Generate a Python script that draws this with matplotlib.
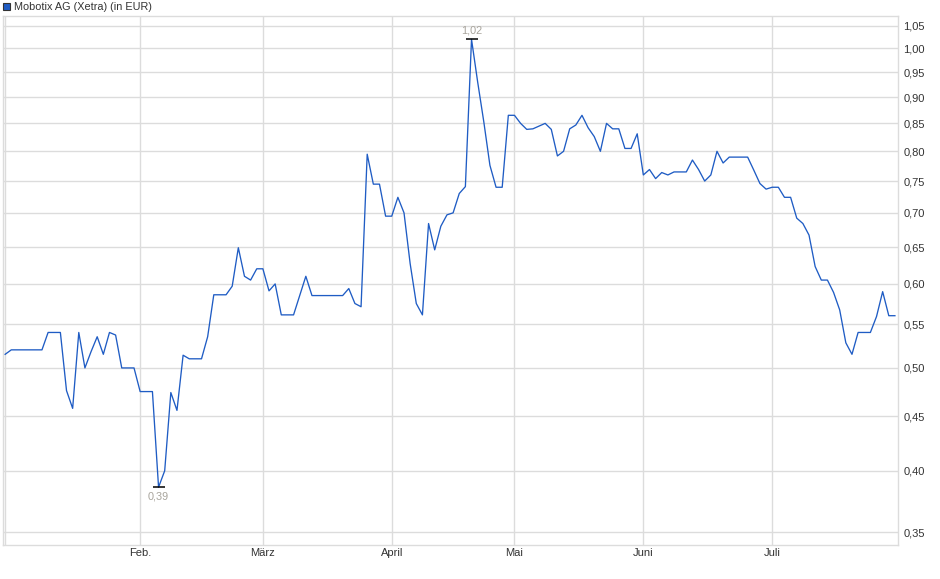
import numpy as np
import matplotlib.pyplot as plt
from matplotlib.ticker import FuncFormatter, NullLocator
from matplotlib.patches import Rectangle

plt.rcParams['font.family'] = ['Liberation Sans', 'DejaVu Sans']

# daily closing prices (EUR), one value per trading day
prices = [
    0.515, 0.52, 0.52, 0.52, 0.52, 0.52, 0.52, 0.54, 0.54, 0.54,
    0.476, 0.458, 0.54, 0.50, 0.518, 0.535, 0.515, 0.54, 0.537, 0.50,
    0.50, 0.50, 0.475, 0.475, 0.475, 0.386, 0.40, 0.474, 0.456, 0.514,
    0.51, 0.51, 0.51, 0.535, 0.586, 0.586, 0.586, 0.597, 0.649, 0.61,
    0.605, 0.62, 0.62, 0.591, 0.60, 0.561, 0.561, 0.561, 0.585, 0.61,
    0.585, 0.585, 0.585, 0.585, 0.585, 0.585, 0.594, 0.575, 0.571, 0.795,
    0.745, 0.745, 0.695, 0.695, 0.724, 0.70, 0.627, 0.575, 0.561, 0.684,
    0.646, 0.68, 0.697, 0.70, 0.73, 0.741, 1.02, 0.93, 0.853, 0.776,
    0.74, 0.74, 0.865, 0.865, 0.85, 0.839, 0.84, 0.845, 0.85, 0.839,
    0.792, 0.80, 0.84, 0.847, 0.865, 0.842, 0.826, 0.80, 0.85, 0.84,
    0.84, 0.805, 0.805, 0.831, 0.76, 0.769, 0.754, 0.764, 0.76, 0.765,
    0.765, 0.765, 0.785, 0.769, 0.75, 0.76, 0.80, 0.78, 0.79, 0.79,
    0.79, 0.79, 0.768, 0.746, 0.737, 0.74, 0.74, 0.724, 0.724, 0.692,
    0.684, 0.667, 0.623, 0.605, 0.605, 0.589, 0.567, 0.528, 0.515, 0.54,
    0.54, 0.54, 0.559, 0.59, 0.56, 0.56,
]
days = np.arange(len(prices))

month_labels = ['Feb.', 'März', 'April', 'Mai', 'Juni', 'Juli']
month_starts = [22, 42, 63, 83, 104, 125]
y_ticks = [0.35, 0.40, 0.45, 0.50, 0.55, 0.60, 0.65, 0.70, 0.75,
           0.80, 0.85, 0.90, 0.95, 1.00, 1.05]

W, H = 940, 579
fig = plt.figure(figsize=(W / 100, H / 100), dpi=100)
ax = fig.add_axes([3 / W, 1 - 545 / H, 895 / W, 529 / H])

grid_c = '#dcdcdc'
line_c = '#1f5cc4'

ax.plot(days, prices, color=line_c, lw=0.95, zorder=3)

ax.set_yscale('log')
ax.set_ylim(0.3405, 1.073)
ax.set_xlim(-0.35, 145.5)

ax.yaxis.set_minor_locator(NullLocator())
ax.set_yticks(y_ticks)
ax.yaxis.set_major_formatter(FuncFormatter(lambda v, p: f'{v:.2f}'.replace('.', ',')))
ax.yaxis.tick_right()
ax.set_xticks(month_starts)
ax.set_xticklabels(month_labels)
ax.tick_params(axis='both', length=0, labelsize=8, colors='#333333')
ax.tick_params(axis='y', pad=4)
ax.tick_params(axis='x', pad=2.5)

for y in y_ticks:
    ax.axhline(y, color=grid_c, lw=1, zorder=1)
for x in [0] + month_starts:
    ax.axvline(x, color=grid_c, lw=1, zorder=1)

for s in ax.spines.values():
    s.set_color(grid_c)
    s.set_linewidth(1)

# high / low markers
i_hi = int(np.argmax(prices))
i_lo = int(np.argmin(prices))
for i, off, va in [(i_hi, 3, 'bottom'), (i_lo, -3, 'top')]:
    ax.plot(days[i], prices[i], marker='_', ms=8, mew=1.1, color='black', zorder=4)
    ax.annotate(f'{prices[i]:.2f}'.replace('.', ','), (days[i], prices[i]),
                xytext=(0, off), textcoords='offset points', ha='center', va=va,
                fontsize=7.8, color='#a8a49c')

# legend
fig.patches.append(Rectangle((3 / W, 1 - 10 / H), 7 / W, 7 / H, transform=fig.transFigure,
                             facecolor='#1f5cc4', edgecolor='#333333', lw=0.8))
fig.text(14 / W, 1 - 6.5 / H, 'Mobotix AG (Xetra) (in EUR)', fontsize=7.8,
         color='#333333', va='center', ha='left')

fig.savefig('out.png', dpi=100)
